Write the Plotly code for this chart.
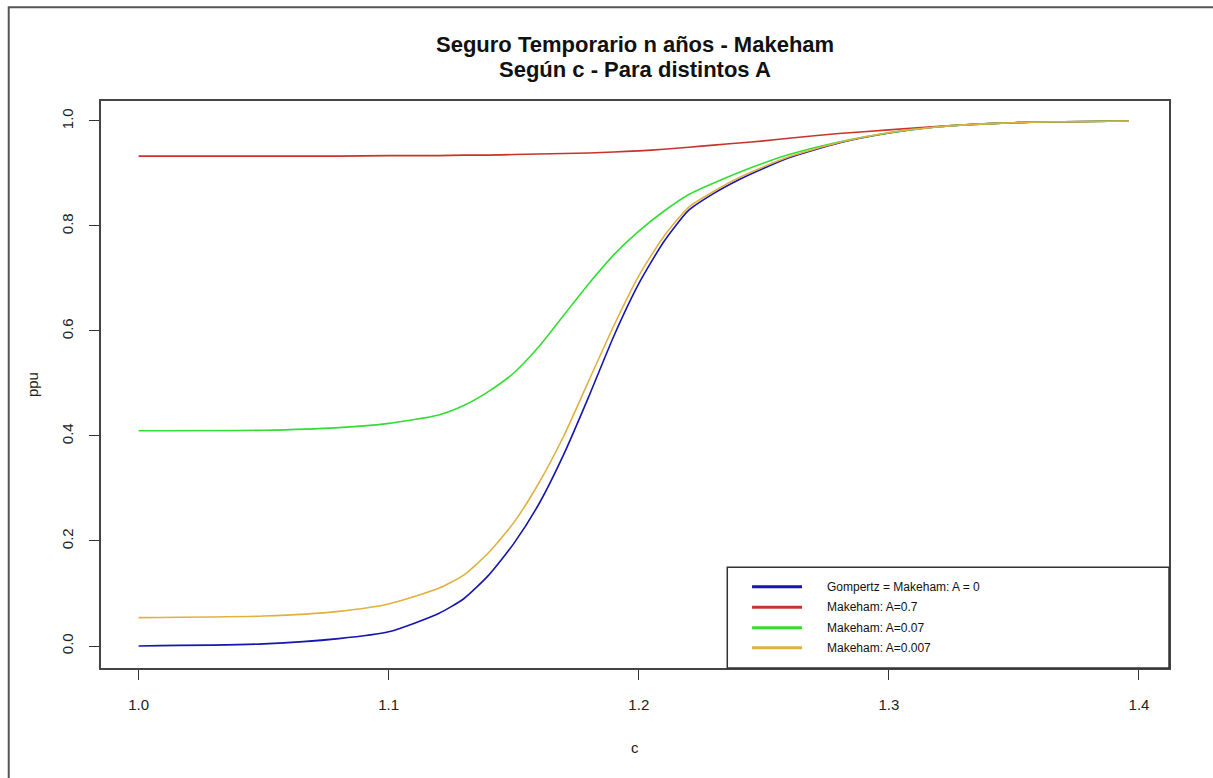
import plotly.graph_objects as go

# ---- data ----
c_vals = [1.00, 1.05, 1.08, 1.10, 1.12, 1.13, 1.14, 1.15, 1.16, 1.17, 1.18, 1.19,
          1.20, 1.21, 1.22, 1.23, 1.24, 1.25, 1.26, 1.28, 1.30, 1.32, 1.34, 1.36,
          1.38, 1.396]

ppu_gompertz = [0.000, 0.004, 0.014, 0.027, 0.062, 0.090, 0.135, 0.195, 0.270, 0.365,
                0.475, 0.590, 0.690, 0.770, 0.830, 0.862, 0.888, 0.910, 0.930, 0.958,
                0.977, 0.989, 0.995, 0.998, 0.999, 1.000]
ppu_a07 = [0.933, 0.933, 0.933, 0.934, 0.934, 0.935, 0.935, 0.936, 0.937, 0.938,
           0.939, 0.941, 0.943, 0.946, 0.950, 0.954, 0.958, 0.962, 0.967, 0.976,
           0.983, 0.990, 0.995, 0.998, 0.999, 1.000]
ppu_a007 = [0.410, 0.411, 0.416, 0.424, 0.440, 0.458, 0.485, 0.520, 0.570, 0.630,
            0.690, 0.745, 0.790, 0.828, 0.860, 0.882, 0.902, 0.920, 0.936, 0.960,
            0.977, 0.989, 0.995, 0.998, 0.999, 1.000]
ppu_a0007 = [0.054, 0.057, 0.066, 0.080, 0.110, 0.135, 0.178, 0.235, 0.310, 0.400,
             0.505, 0.610, 0.705, 0.780, 0.836, 0.866, 0.892, 0.913, 0.932, 0.959,
             0.978, 0.989, 0.995, 0.998, 0.999, 1.000]

series_names = ["Gompertz = Makeham: A = 0", "Makeham: A=0.7",
                "Makeham: A=0.07", "Makeham: A=0.007"]
series_values = [ppu_gompertz, ppu_a07, ppu_a007, ppu_a0007]
series_colors = ["#1515b0", "#c8342c", "#33dd33", "#e2b040"]

x_ticks = [1.0, 1.1, 1.2, 1.3, 1.4]
y_ticks = [0.0, 0.2, 0.4, 0.6, 0.8, 1.0]

title_lines = ["Seguro Temporario n años - Makeham", "Según c - Para distintos A"]

FONT = "Liberation Sans, Arial, sans-serif"

fig = go.Figure()
for name, vals, col in zip(series_names, series_values, series_colors):
    fig.add_trace(go.Scatter(x=c_vals, y=vals, mode="lines", name=name,
                             line=dict(color=col, width=1.6, shape="spline", smoothing=0.6),
                             showlegend=False))

axis_common = dict(showline=True, mirror=True, linecolor="#444", linewidth=1.5,
                   ticks="outside", ticklen=10, tickcolor="#333", tickwidth=1,
                   showgrid=False, zeroline=False, tickformat=".1f",
                   tickfont=dict(family=FONT, size=15, color="#222"))

fig.update_layout(
    width=1213, height=778,
    margin=dict(l=101, r=44, t=101, b=110),
    paper_bgcolor="white", plot_bgcolor="white",
    font=dict(family=FONT, color="#111"),
    xaxis=dict(range=[0.98497, 1.412], tickvals=x_ticks, ticklabelstandoff=12, **axis_common),
    yaxis=dict(range=[-0.0419, 1.038], tickvals=y_ticks, tickangle=-90,
               ticklabelstandoff=10, **axis_common),
)

# title (two lines placed individually)
for txt, ty in zip(title_lines, [1.1005, 1.0564]):
    fig.add_annotation(text="<b>" + txt + "</b>", x=0.5, y=ty, xref="paper", yref="paper",
                       xanchor="center", yanchor="middle", showarrow=False,
                       font=dict(family=FONT, size=22, color="#111"))

# axis titles
fig.add_annotation(text="ppu", x=-0.0646, y=0.499, xref="paper", yref="paper",
                   xanchor="center", yanchor="middle", textangle=-90, showarrow=False,
                   font=dict(family=FONT, size=15, color="#222"))
fig.add_annotation(text="c", x=0.5, y=-0.141, xref="paper", yref="paper",
                   xanchor="center", yanchor="middle", showarrow=False,
                   font=dict(family=FONT, size=15, color="#222"))

# outer frame
fig.add_shape(type="rect", xref="paper", yref="paper", x0=-0.0864, x1=1.2,
              y0=-0.3, y1=1.1653, line=dict(color="#555", width=2), layer="below")

# legend box (drawn manually to match the original layout)
fig.add_shape(type="rect", xref="paper", yref="paper", x0=0.5864, x1=1.0,
              y0=0.0, y1=0.1776, line=dict(color="#333", width=1.5),
              fillcolor="white", layer="above")
row_y = [0.1434, 0.1071, 0.0711, 0.0358]
for ry, name, col in zip(row_y, series_names, series_colors):
    fig.add_shape(type="line", xref="paper", yref="paper", x0=0.6096, x1=0.6564,
                  y0=ry, y1=ry, line=dict(color=col, width=3), layer="above")
    fig.add_annotation(text=name, x=0.6779, y=ry, xref="paper", yref="paper",
                       xanchor="left", yanchor="middle", showarrow=False,
                       font=dict(family=FONT, size=12, color="#111"))

fig.write_html("out.html")
